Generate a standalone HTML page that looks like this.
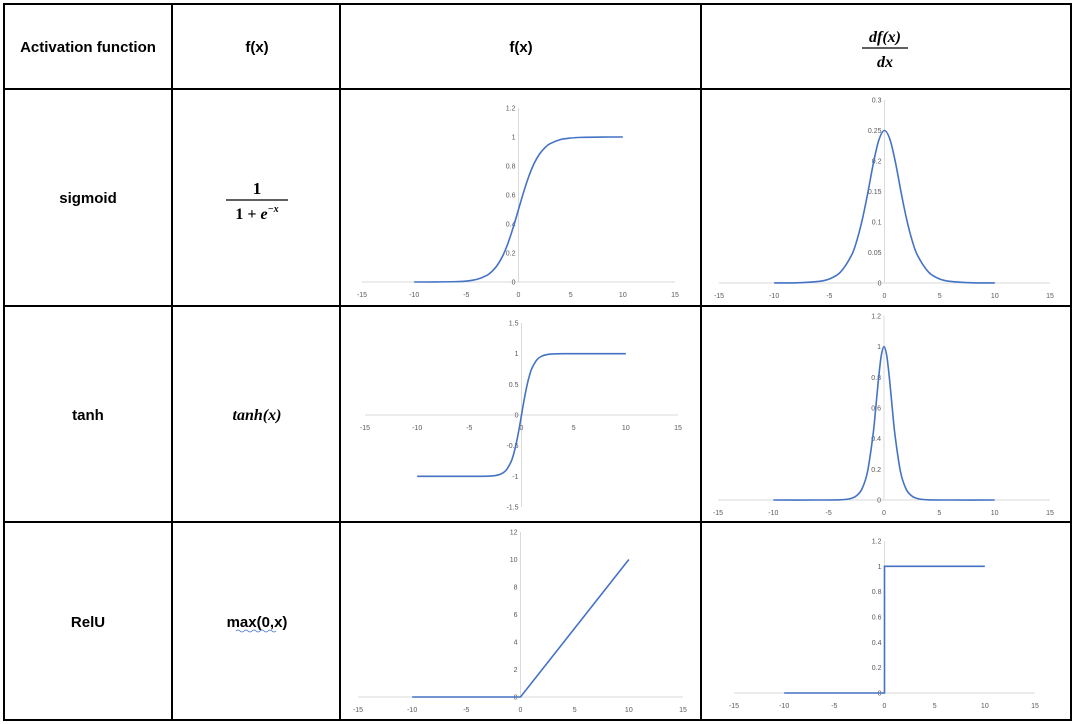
<!DOCTYPE html>
<html><head><meta charset="utf-8"><style>
html,body{margin:0;padding:0;background:#fff;}
svg{display:block;}
.h{font-family:"Liberation Sans",sans-serif;font-weight:bold;font-size:15px;fill:#000;}
.m{font-family:"Liberation Serif",serif;font-weight:bold;font-style:italic;fill:#000;}
.t{font-family:"Liberation Sans",sans-serif;font-size:7px;fill:#595959;}
</style></head><body>
<svg id="root" width="1075" height="724" viewBox="0 0 1075 724">
<g stroke="#000" stroke-width="2" fill="none">
<rect x="4" y="4" width="1067" height="716"/>
<line x1="172" y1="4" x2="172" y2="720"/><line x1="340" y1="4" x2="340" y2="720"/><line x1="701" y1="4" x2="701" y2="720"/>
<line x1="4" y1="89" x2="1071" y2="89"/><line x1="4" y1="306" x2="1071" y2="306"/><line x1="4" y1="522" x2="1071" y2="522"/>
</g>
<text class="h" x="88" y="52" text-anchor="middle">Activation function</text>
<text class="h" x="257" y="52" text-anchor="middle">f(x)</text>
<text class="h" x="521" y="52" text-anchor="middle">f(x)</text>
<g>
<text class="m" x="885" y="42" font-size="16" text-anchor="middle">df(x)</text>
<line x1="862" y1="48" x2="908" y2="48" stroke="#000" stroke-width="1.2"/>
<text class="m" x="885" y="67" font-size="16" text-anchor="middle">dx</text>
</g>
<text class="h" x="88" y="203" text-anchor="middle">sigmoid</text>
<text class="h" x="88" y="420" text-anchor="middle">tanh</text>
<text class="h" x="88" y="627" text-anchor="middle">RelU</text>
<g>
<text class="m" x="257" y="194" font-size="17" style="font-style:normal" text-anchor="middle">1</text>
<line x1="226" y1="200" x2="288" y2="200" stroke="#000" stroke-width="1.2"/>
<text class="m" x="257" y="219" font-size="16" text-anchor="middle"><tspan style="font-style:normal">1 + </tspan>e<tspan font-size="10" dy="-7">−x</tspan></text>
</g>
<text class="m" x="257" y="420" font-size="16" text-anchor="middle">tanh(x)</text>
<text class="h" x="257" y="627" text-anchor="middle">max(0,x)</text>
<path d="M236 631 q2 -2 4 0 t4 0 t4 0 t4 0 t4 0 t4 0 t4 0 t4 0 t4 0 t4 0" stroke="#4472c4" fill="none" stroke-width="0.8"/>
<g id="charts"></g>
</svg>
<script>
// sigmoid
const sigX=[-10,-8,-6,-5,-4,-3,-2.5,-2,-1.5,-1,-0.5,0,0.5,1,1.5,2,2.5,3,4,5,6,8,10];
const sigY=[0.00005,0.0003,0.0025,0.0067,0.018,0.047,0.076,0.119,0.182,0.269,0.378,0.5,0.622,0.731,0.818,0.881,0.924,0.953,0.982,0.993,0.9975,0.9997,1.0];
const dsigY=[0.00005,0.0003,0.0025,0.0066,0.0177,0.045,0.070,0.105,0.149,0.197,0.235,0.25,0.235,0.197,0.149,0.105,0.070,0.045,0.0177,0.0066,0.0025,0.0003,0.00005];
// tanh
const tanX=[-10,-6,-4,-3,-2.5,-2,-1.5,-1,-0.75,-0.5,-0.25,0,0.25,0.5,0.75,1,1.5,2,2.5,3,4,6,10];
const tanY=[-1,-1,-0.9993,-0.995,-0.987,-0.964,-0.905,-0.762,-0.635,-0.462,-0.245,0,0.245,0.462,0.635,0.762,0.905,0.964,0.987,0.995,0.9993,1,1];
const dtanY=[0,0,0.0013,0.0099,0.027,0.071,0.181,0.42,0.597,0.787,0.94,1,0.94,0.787,0.597,0.42,0.181,0.071,0.027,0.0099,0.0013,0,0];
// relu
const reluX=[-10,0,10];
const reluY=[0,0,10];
const dreluX=[-10,0,0,10];
const dreluY=[0,0,1,1];
// ticks
const xTicks=[-15,-10,-5,0,5,10,15];
const sigTicks=[0,0.2,0.4,0.6,0.8,1,1.2];
const dsigTicks=[0,0.05,0.1,0.15,0.2,0.25,0.3];
const tanTicks=[-1.5,-1,-0.5,0,0.5,1,1.5];
const dtanTicks=[0,0.2,0.4,0.6,0.8,1,1.2];
const reluTicks=[0,2,4,6,8,10,12];
const dreluTicks=[0,0.2,0.4,0.6,0.8,1,1.2];

const NS="http://www.w3.org/2000/svg";
const root=document.getElementById('charts');
function mk(tag,attrs,parent){const e=document.createElementNS(NS,tag);for(const k in attrs)e.setAttribute(k,attrs[k]);parent.appendChild(e);return e;}
function chart(name,px0,px1,py0,py1,ymin,ymax,yticks,xs,ys,smooth){
  const g=mk('g',{},root);
  
  
  const sx=v=>px0+(v+15)/30*(px1-px0);
  const sy=v=>py0-(v-ymin)/(ymax-ymin)*(py0-py1);
  const yAxisY=sy(Math.max(ymin,0));
  const xl=mk('line',{x1:sx(-15),x2:sx(15),y1:yAxisY,y2:yAxisY,stroke:'#d9d9d9','stroke-width':1},g);
  
  
  const yl=mk('line',{x1:sx(0),x2:sx(0),y1:sy(ymin),y2:sy(ymax),stroke:'#d9d9d9','stroke-width':1},g);
  
  
  xTicks.forEach(v=>{const t=mk('text',{x:sx(v),y:yAxisY+15,'text-anchor':'middle',class:'t'},g);t.textContent=v;
    
    });
  yticks.forEach(v=>{const t=mk('text',{x:sx(0)-3,y:sy(v)+2.5,'text-anchor':'end',class:'t'},g);t.textContent=v;
    
    });
  const P=xs.map((x,i)=>[sx(x),sy(ys[i])]);
  let d='M'+P[0][0]+' '+P[0][1];
  for(let i=0;i<P.length-1;i++){
    if(!smooth){d+=' L'+P[i+1][0]+' '+P[i+1][1];continue;}
    const p0=P[Math.max(0,i-1)],p1=P[i],p2=P[i+1],p3=P[Math.min(P.length-1,i+2)];
    const c1=[p1[0]+(p2[0]-p0[0])/6,p1[1]+(p2[1]-p0[1])/6],c2=[p2[0]-(p3[0]-p1[0])/6,p2[1]-(p3[1]-p1[1])/6];
    d+=' C'+c1[0]+' '+c1[1]+' '+c2[0]+' '+c2[1]+' '+p2[0]+' '+p2[1];
  }
  const line=mk('path',{d:d,fill:'none',stroke:'#4472c4','stroke-width':1.6},g);
  
  
}
chart('sigmoid-chart',362,675,282,108,0,1.2,sigTicks,sigX,sigY,true);
chart('sigmoid-derivative-chart',719,1050,283,100,0,0.3,dsigTicks,sigX,dsigY,true);
chart('tanh-chart',365,678,507,323,-1.5,1.5,tanTicks,tanX,tanY,true);
chart('tanh-derivative-chart',718,1050,500,316,0,1.2,dtanTicks,tanX,dtanY,true);
chart('relu-chart',358,683,697,532,0,12,reluTicks,reluX,reluY,false);
chart('relu-derivative-chart',734,1035,693,541,0,1.2,dreluTicks,dreluX,dreluY,false);
</script>
</body></html>
